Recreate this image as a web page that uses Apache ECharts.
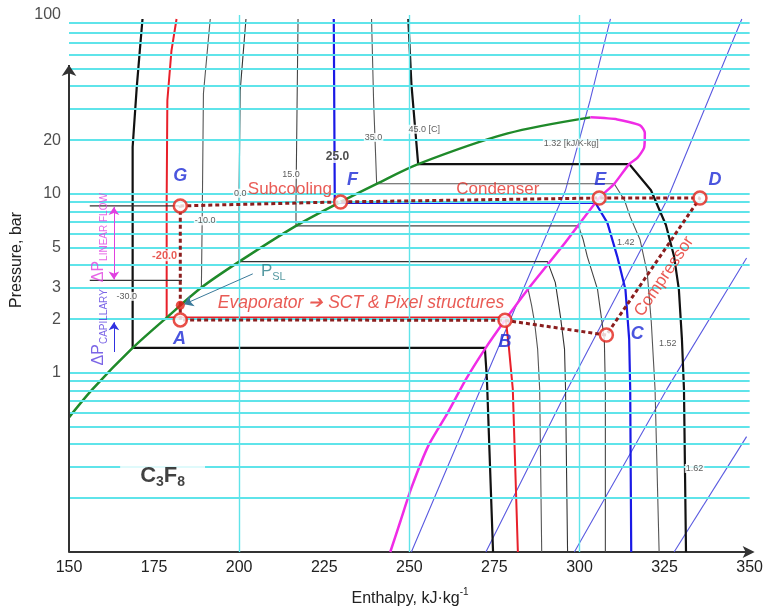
<!DOCTYPE html>
<html>
<head>
<meta charset="utf-8">
<title>C3F8 pressure-enthalpy diagram</title>
<script src="https://cdn.jsdelivr.net/npm/echarts@6/dist/echarts.min.js"></script>
<style>
html, body { margin: 0; padding: 0; background: #fff; }
#chart { width: 766px; height: 610px; }
</style>
</head>
<body>
<div id="chart"></div>
<script>
// ---- data: enthalpy [kJ/kg], pressure [bar] ----
const yTickLabels = [1, 2, 3, 5, 10, 20, 100];
const gridPressures = [0.2, 0.3, 0.4, 0.5, 0.6, 0.7, 0.8, 0.9,
  1, 2, 3, 4, 5, 6, 7, 8, 9, 10, 20, 30, 40, 50, 60, 70, 80, 90];
const gridEnthalpies = [200, 250, 300];

// saturated liquid (green) and saturated vapour (magenta)
const liquidSat = [[150, 0.565], [157.0, 0.815], [168.7, 1.38], [178.7, 2.04], [188.9, 3.0],
  [200, 4.19], [216.7, 6.64], [229.8, 9.03], [240.4, 11.4], [252.6, 14.7], [278.9, 21.8], [303.2, 26.8]];
const vaporSat = [[303.2, 26.8], [311.1, 26.1], [317.8, 24.2], [319.2, 22.0], [319.0, 18.2], [317.0, 15.9],
  [314.6, 14.7], [310.2, 11.4], [305.8, 9.5], [295.3, 5.2], [284.8, 2.93], [278.1, 1.97], [272.2, 1.36],
  [266.7, 0.926], [261.4, 0.605], [255.6, 0.393], [250.6, 0.228], [247.4, 0.149], [244.4, 0.1]];

// isotherms [C]
const isoM30 = [[171.6, 95], [170.8, 63.1], [169.9, 39.3], [168.7, 18.3], [168.7, 1.38], [272.2, 1.38],
  [272.8, 0.926], [274.6, 0.1]];
const isoM20 = [[181.6, 95], [180.1, 63.1], [178.9, 33.3], [178.7, 9.26], [178.7, 2.04], [278.3, 2.04],
  [279.3, 1.36], [280.4, 0.815], [281.9, 0.1]];
const isoM10 = [[191.5, 95], [189.5, 36.4], [189.2, 9.26], [188.9, 3.0], [284.8, 3.0], [285.9, 2.4],
  [286.8, 1.92], [287.7, 1.36], [288.3, 0.815], [288.9, 0.1]];
const iso0 = [[202.0, 95], [200.3, 37.8], [200, 10.9], [200, 4.19], [290.6, 4.19], [292.9, 3.2],
  [294.4, 2.07], [295.6, 1.36], [295.9, 0.815], [296.5, 0.1]];
const iso15 = [[217.3, 95], [216.7, 9.26], [216.7, 6.64], [299.7, 6.64], [301.1, 5.55], [302.3, 4.47],
  [305.3, 2.93], [307.3, 1.54], [307.6, 0.815], [307.6, 0.1]];
const iso25 = [[227.8, 95], [228.1, 8.91], [304.7, 8.91], [308.2, 6.9], [311.1, 4.47], [313.5, 2.93],
  [314.6, 1.54], [314.9, 0.815], [315.2, 0.1]];
const iso35 = [[238.9, 95], [239.5, 33.3], [240.4, 11.4], [310.2, 11.4], [313.2, 9.26], [314.9, 7.45],
  [317.8, 5.55], [319.9, 3.64], [321.1, 1.92], [322.2, 0.815], [323.4, 0.1]];
const iso45 = [[249.7, 95], [250.6, 41.4], [252.6, 14.7], [314.6, 14.7], [321.0, 10.5], [325.4, 6.71],
  [327.8, 4.47], [329.2, 2.93], [330.1, 1.54], [330.7, 0.815], [331.3, 0.1]];

// isentropes [kJ/K-kg]
const s132 = [[309.1, 95], [303.1, 33.3], [295.9, 10.5], [272.2, 0.926], [250.6, 0.1]];
const s142 = [[347.7, 95], [325.7, 9.26], [296.5, 0.815], [272.5, 0.1]];
const s152 = [[349.1, 4.39], [325.7, 0.815], [298.5, 0.1]];
const s162 = [[349.1, 0.441], [327.8, 0.1]];

// cooling cycle
const stateNames = ['G', 'F', 'E', 'D', 'C', 'B', 'A'];
const stateH = [182.7, 229.8, 305.8, 335.4, 307.9, 278.1, 182.7];
const stateP = [8.58, 9.03, 9.5, 9.5, 1.63, 1.97, 1.98];
const sensorPoint = [182.7, 2.39];
const dpLevels = [8.58, 3.29, 2.0];
const dpLinearFlow = [8.47, 3.33];
const dpCapillary = [1.31, 1.92];

// ---- chart ----
const FONT = 'Liberation Sans, Arial, Helvetica, sans-serif';
const RED = '#e4322b';
const chart = echarts.init(document.getElementById('chart'));

function curve(data, color, width, z) {
  return {
    type: 'line', data: data, symbol: 'none', silent: true,
    lineStyle: { color: color, width: width }, z: z || 3
  };
}

function arrow(from, to, color, width, symbols, size) {
  return {
    type: 'line', data: [], clip: false, silent: true, z: 5,
    markLine: {
      silent: true, symbol: symbols, symbolSize: size, animation: false,
      label: { show: false },
      lineStyle: { color: color, width: width, type: 'solid' },
      data: [[{ coord: from }, { coord: to }]]
    }
  };
}

const styles = {
  state: { color: '#1d2bd6', fontSize: 18, fontWeight: 'bold', fontStyle: 'italic' },
  process: { color: RED, fontSize: 17 },
  iso: { color: '#333', fontSize: 9, backgroundColor: '#fff', padding: [0, 1] },
  entropy: { color: '#333', fontSize: 9, backgroundColor: '#fff', padding: [0, 1] }
};

const cycle = stateNames.map((n, i) => [stateH[i], stateP[i]]);
cycle.push(cycle[0]);

const annotations = [
  ['G', [182.7, 12.6], styles.state],
  ['F', [233.3, 11.96], styles.state],
  ['E', [306.1, 11.96], styles.state],
  ['D', [339.8, 11.96], styles.state],
  ['C', [317.0, 1.65], styles.state],
  ['B', [278.1, 1.49], styles.state],
  ['A', [182.5, 1.54], styles.state],
  ['Subcooling', [214.9, 10.66], styles.process],
  ['Condenser', [276.0, 10.66], styles.process],
  ['Evaporator ➔ SCT & Pixel structures', [235.8, 2.46], { color: RED, fontSize: 17.5, fontStyle: 'italic' }],
  ['Compressor', [324.9, 3.46], { color: RED, fontSize: 17, rotate: 56 }],
  ['-30.0', [167.0, 2.68], styles.iso],
  ['-20.0', [178.1, 4.52], { color: RED, fontSize: 11, fontWeight: 'bold', backgroundColor: '#fff', padding: [0, 1] }],
  ['-10.0', [190.0, 7.08], styles.iso],
  ['0.0', [200.3, 10.1], styles.iso],
  ['15.0', [215.2, 12.9], styles.iso],
  ['25.0', [228.9, 16.1], { color: '#222', fontSize: 12, fontWeight: 'bold', backgroundColor: '#fff', padding: [0, 1] }],
  ['35.0', [239.5, 20.7], styles.iso],
  ['45.0 [C]', [254.4, 23.0], styles.iso],
  ['1.32 [kJ/K-kg]', [297.6, 19.2], styles.entropy],
  ['1.42', [313.6, 5.35], styles.entropy],
  ['1.52', [325.9, 1.47], styles.entropy],
  ['1.62', [333.8, 0.293], styles.entropy],
  ['{p|P}{s|SL}', [206.4, 3.64], {
    align: 'left',
    rich: {
      p: { color: '#2a7f8a', fontSize: 17, fontFamily: FONT, lineHeight: 20, verticalAlign: 'top' },
      s: { color: '#2a7f8a', fontSize: 11, fontFamily: FONT, lineHeight: 12, verticalAlign: 'bottom' }
    }
  }],
  ['{p|ΔP}{s|LINEAR FLOW}', [159.1, 5.70], {
    rotate: 90,
    rich: {
      p: { color: '#e040e0', fontSize: 16, fontFamily: FONT, lineHeight: 19, verticalAlign: 'top' },
      s: { color: '#e040e0', fontSize: 10, fontFamily: FONT, lineHeight: 11, verticalAlign: 'bottom' }
    }
  }],
  ['{p|ΔP}{s|CAPILLARY}', [159.1, 1.80], {
    rotate: 90,
    rich: {
      p: { color: '#5a3ee0', fontSize: 16, fontFamily: FONT, lineHeight: 19, verticalAlign: 'top' },
      s: { color: '#5a3ee0', fontSize: 10, fontFamily: FONT, lineHeight: 11, verticalAlign: 'bottom' }
    }
  }],
  ['{b|C}{s|3}{b|F}{s|8}', [177.5, 0.263], {
    backgroundColor: '#fff', padding: [0, 20],
    rich: {
      b: { color: '#111', fontSize: 22, fontWeight: 'bold', fontFamily: FONT, lineHeight: 24, verticalAlign: 'top' },
      s: { color: '#111', fontSize: 14, fontWeight: 'bold', fontFamily: FONT, lineHeight: 14, verticalAlign: 'bottom' }
    }
  }]
];

const option = {
  animation: false,
  backgroundColor: '#fff',
  textStyle: { fontFamily: FONT },
  grid: { left: 69, right: 13, top: 15, bottom: 58 },
  xAxis: {
    type: 'value', min: 150, max: 350, interval: 25,
    axisLine: {
      show: true, onZero: false,
      lineStyle: { color: '#333', width: 2 },
      symbol: ['none', 'arrow'], symbolSize: [9, 12], symbolOffset: [0, 5]
    },
    axisTick: { show: false },
    splitLine: { show: false },
    axisLabel: { fontSize: 16, color: '#222', margin: 8, fontFamily: FONT }
  },
  yAxis: {
    type: 'log', logBase: 10, min: 0.1, max: 100,
    axisLine: { show: false },
    axisTick: { show: false },
    axisLabel: { show: false },
    splitLine: { show: false }
  },
  graphic: [
    {
      type: 'text', x: 17, y: 260, rotation: Math.PI / 2,
      style: { text: 'Pressure, bar', fontSize: 16, fontFamily: FONT, fill: '#222', align: 'center', verticalAlign: 'middle' }
    },
    {
      type: 'text', x: 410, y: 597,
      style: {
        text: '{a|Enthalpy, kJ·kg}{s|-1}', align: 'center', verticalAlign: 'middle',
        rich: {
          a: { fontSize: 16, fontFamily: FONT, fill: '#222', lineHeight: 20, verticalAlign: 'bottom' },
          s: { fontSize: 10, fontFamily: FONT, fill: '#222', lineHeight: 10, verticalAlign: 'top' }
        }
      }
    }
  ],
  series: [
    // cyan grid
    {
      type: 'line', data: [], silent: true, z: 1,
      markLine: {
        silent: true, symbol: 'none', animation: false, label: { show: false },
        lineStyle: { color: '#5fe4ea', width: 1.8, type: 'solid' },
        data: gridPressures.map(p => ({ yAxis: p })).concat(
          gridEnthalpies.map(h => ({ xAxis: h, lineStyle: { width: 1.4 } })))
      }
    },
    // isentropes
    curve(s132, '#5a5ae0', 1.1, 2),
    curve(s142, '#5a5ae0', 1.1, 2),
    curve(s152, '#5a5ae0', 1.1, 2),
    curve(s162, '#5a5ae0', 1.1, 2),
    // isotherms
    curve(isoM30, '#111', 2.2),
    curve(isoM20, '#e8202a', 2),
    curve(isoM10, '#555', 1.1),
    curve(iso0, '#333', 1.1),
    curve(iso15, '#444', 1.1),
    curve(iso25, '#1a1ae6', 2.2),
    curve(iso35, '#555', 1.1),
    curve(iso45, '#111', 2.2),
    // saturation dome
    Object.assign(curve(liquidSat, '#1f8a2a', 2.5, 4), { smooth: 0.3 }),
    Object.assign(curve(vaporSat, '#f02ce6', 2.5, 4), { smooth: 0.2 }),
    // pressure-drop reference lines
    ...dpLevels.map((p, i) => curve([[156.1, p], [[182.5, 183.2, 178.7][i], p]], '#333', 1.2, 3)),
    arrow([163.2, dpLinearFlow[0]], [163.2, dpLinearFlow[1]], '#e040e0', 1, ['arrow', 'arrow'], 8),
    arrow([163.2, dpCapillary[0]], [163.2, dpCapillary[1]], '#3030e0', 1, ['none', 'arrow'], 8),
    arrow([204.0, 3.58], [183.8, 2.42], '#3a7a9a', 1, ['none', 'arrow'], 9),
    // y axis line
    arrow([150, 0.1], [150, 52.6], '#333', 2, ['none', 'arrow'], 11),
    // cycle
    {
      type: 'line', data: cycle, symbol: 'none', silent: true, z: 6,
      lineStyle: { color: '#8b1e1e', width: 3, type: [4, 3] }
    },
    {
      type: 'scatter', data: cycle.slice(0, 7), symbol: 'circle', symbolSize: 13, silent: true, z: 7,
      itemStyle: { color: '#fff', borderColor: '#e2231a', borderWidth: 2.5 }
    },
    {
      type: 'scatter', data: [sensorPoint], symbolSize: 9, silent: true, z: 7,
      itemStyle: { color: '#e2231a' }
    },
    // y tick labels
    {
      type: 'scatter', clip: false, silent: true, symbolSize: 0, z: 8,
      data: yTickLabels.map(v => [150, v]),
      label: {
        show: true, position: 'left', distance: 8, fontSize: 16, color: '#222', fontFamily: FONT,
        formatter: p => String(p.value[1])
      }
    },
    // annotations
    {
      type: 'scatter', clip: false, silent: true, symbolSize: 0, z: 9,
      data: annotations.map(a => ({
        value: a[1],
        label: Object.assign({ show: true, position: 'inside', formatter: a[0], fontFamily: FONT }, a[2])
      }))
    }
  ]
};

chart.setOption(option);
</script>
</body>
</html>
